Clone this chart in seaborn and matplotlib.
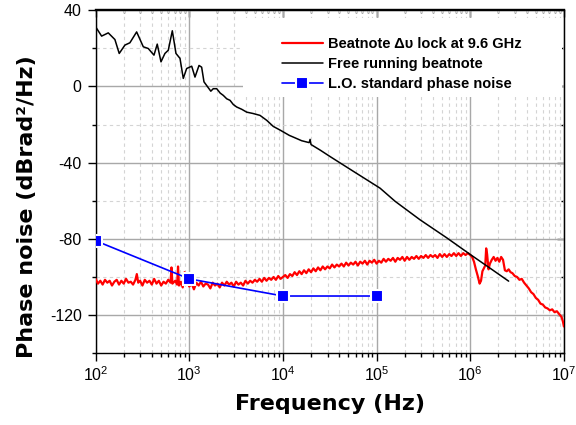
import numpy as np
import pandas as pd
import matplotlib
matplotlib.use("Agg")
import matplotlib.pyplot as plt
import matplotlib.ticker as mticker
from matplotlib.patches import Rectangle
import seaborn as sns

# free running beatnote (log10 of frequency, dBrad2/Hz)
free_logf = [2.000, 2.064, 2.135, 2.206, 2.252, 2.313, 2.366, 2.438, 2.509, 2.562,
             2.623, 2.658, 2.698, 2.740, 2.776, 2.819, 2.858, 2.901, 2.936, 2.972,
             3.026, 3.061, 3.104, 3.132, 3.157, 3.203, 3.230, 3.256, 3.293, 3.330,
             3.363, 3.400, 3.435, 3.470, 3.506, 3.560, 3.613, 3.680, 3.755, 3.827,
             3.897, 3.969, 4.068, 4.111, 4.200, 4.280, 4.290, 4.300, 4.400, 4.503,
             4.750, 5.037, 5.198, 5.464, 5.750, 6.000, 6.200, 6.410]
free_db = [31.3, 26.4, 28.1, 24.6, 17.3, 21.7, 22.9, 28.6, 20.8, 19.9,
           16.4, 22.2, 12.9, 17.3, 19.0, 29.2, 17.3, 14.7, 4.2, 9.4,
           10.6, 4.9, 11.0, 10.1, 2.4, -0.7, -2.5, -1.2, -1.2, -3.5,
           -4.7, -6.5, -7.3, -9.5, -10.8, -12.0, -13.5, -14.2, -15.2, -17.8,
           -21.0, -22.9, -25.7, -26.6, -28.5, -29.5, -27.8, -30.5, -33.5, -36.8,
           -44.5, -53.4, -60.3, -70.0, -79.5, -88.2, -95.0, -102.2]

# beatnote locked at 9.6 GHz
lock_logf = [2.000, 2.025, 2.050, 2.075, 2.100, 2.125, 2.150, 2.175, 2.200, 2.225,
             2.250, 2.275, 2.300, 2.325, 2.350, 2.375, 2.400, 2.425, 2.440, 2.455,
             2.475, 2.500, 2.525, 2.550, 2.575, 2.600, 2.625, 2.650, 2.675, 2.700,
             2.725, 2.750, 2.775, 2.800, 2.810, 2.820, 2.850, 2.870, 2.880, 2.890,
             2.910, 2.930, 2.950, 2.960, 2.980, 3.000, 3.025, 3.050, 3.075, 3.100,
             3.125, 3.150, 3.175, 3.200, 3.225, 3.250, 3.275, 3.300, 3.325, 3.350,
             3.375, 3.400, 3.425, 3.450, 3.475, 3.500, 3.525, 3.550, 3.575, 3.600,
             3.625, 3.650, 3.675, 3.700, 3.725, 3.750, 3.775, 3.800, 3.825, 3.850,
             3.875, 3.900, 3.925, 3.950, 3.975, 4.000, 4.025, 4.050, 4.075, 4.100,
             4.125, 4.150, 4.175, 4.200, 4.225, 4.250, 4.275, 4.300, 4.325, 4.350,
             4.375, 4.400, 4.425, 4.450, 4.475, 4.500, 4.525, 4.550, 4.575, 4.600,
             4.625, 4.650, 4.675, 4.700, 4.725, 4.750, 4.775, 4.800, 4.825, 4.850,
             4.875, 4.900, 4.925, 4.950, 4.975, 5.000, 5.025, 5.050, 5.075, 5.100,
             5.125, 5.150, 5.175, 5.200, 5.225, 5.250, 5.275, 5.300, 5.325, 5.350,
             5.375, 5.400, 5.425, 5.450, 5.475, 5.500, 5.525, 5.550, 5.575, 5.600,
             5.625, 5.650, 5.675, 5.700, 5.725, 5.750, 5.775, 5.800, 5.825, 5.850,
             5.875, 5.900, 5.925, 5.950, 5.975, 6.000, 6.020, 6.040, 6.060, 6.080,
             6.100, 6.115, 6.130, 6.145, 6.160, 6.170, 6.180, 6.195, 6.210, 6.230,
             6.250, 6.270, 6.290, 6.310, 6.330, 6.350, 6.370, 6.390, 6.410, 6.430,
             6.450, 6.475, 6.500, 6.525, 6.550, 6.575, 6.600, 6.625, 6.650, 6.675,
             6.700, 6.725, 6.750, 6.775, 6.800, 6.825, 6.850, 6.875, 6.900, 6.925,
             6.950, 6.975, 6.990, 7.000]
lock_db = [-101.0, -103.5, -102.0, -104.0, -101.5, -103.0, -102.0, -104.5, -102.5, -101.5,
           -104.0, -102.0, -103.5, -101.0, -103.0, -102.5, -104.0, -101.5, -98.5, -103.0,
           -102.0, -104.5, -101.5, -103.0, -102.0, -104.0, -101.0, -103.5, -102.0, -104.5,
           -102.5, -103.5, -101.5, -103.0, -95.0, -103.5, -102.0, -104.0, -94.5, -104.5,
           -102.5, -105.5, -97.5, -104.0, -103.0, -105.0, -103.5, -106.5, -103.0, -104.5,
           -102.5, -105.0, -103.5, -104.0, -106.0, -103.0, -104.5, -103.5, -105.5, -103.0,
           -104.5, -102.5, -104.0, -103.0, -105.0, -102.5, -104.0, -103.0, -104.5, -102.0,
           -103.5, -102.0, -103.0, -101.5, -102.5, -101.0, -102.5, -100.5, -102.0, -100.5,
           -101.5, -100.0, -101.5, -99.5, -101.0, -100.0, -99.0, -100.5, -98.5, -99.5,
           -97.5, -99.0, -97.0, -98.5, -96.5, -98.0, -96.0, -97.5, -95.5, -97.0,
           -95.0, -96.5, -94.5, -96.0, -94.5, -95.5, -93.5, -95.0, -93.5, -94.5,
           -93.0, -94.5, -92.5, -94.0, -92.5, -93.5, -92.0, -94.0, -92.0, -93.0,
           -91.5, -93.5, -91.5, -92.5, -91.0, -93.0, -91.5, -92.5, -90.5, -92.0,
           -90.5, -91.5, -90.0, -92.0, -90.0, -91.0, -89.5, -91.5, -89.5, -91.0,
           -89.5, -90.5, -89.0, -90.5, -89.0, -90.0, -88.5, -90.0, -88.5, -89.5,
           -88.5, -90.0, -88.0, -89.5, -88.0, -89.5, -88.0, -89.0, -87.5, -89.0,
           -87.5, -89.0, -87.5, -88.5, -87.5, -88.5, -89.5, -92.0, -96.0, -99.5,
           -103.5, -102.0, -97.0, -95.5, -94.0, -85.0, -88.0, -96.0, -93.0, -91.0,
           -89.5, -91.5, -90.0, -92.0, -89.5, -91.0, -96.5, -97.0, -96.0, -97.5,
           -98.0, -99.5, -100.0, -101.5, -101.0, -103.0, -104.5, -106.0, -108.0, -109.0,
           -111.0, -112.0, -114.0, -114.5, -116.0, -116.5, -117.5, -117.0, -118.5, -118.0,
           -119.5, -121.0, -123.5, -126.0]

# L.O. standard phase noise
lo_freq = [1e2, 1e3, 1e4, 1e5]
lo_db = [-81, -101, -110, -110]

free = pd.DataFrame({"f": 10 ** np.array(free_logf), "db": free_db})
lock = pd.DataFrame({"f": 10 ** np.array(lock_logf), "db": lock_db})
lo = pd.DataFrame({"f": lo_freq, "db": lo_db})

sns.set_style("white")
plt.rcParams["font.family"] = ["Liberation Sans", "DejaVu Sans"]
plt.rcParams["mathtext.fontset"] = "custom"
plt.rcParams["mathtext.rm"] = "Liberation Sans"
plt.rcParams["axes.unicode_minus"] = False
plt.rcParams["text.color"] = "black"
plt.rcParams["axes.labelcolor"] = "black"
plt.rcParams["xtick.color"] = "black"
plt.rcParams["ytick.color"] = "black"

fig = plt.figure(figsize=(5.76, 4.25), dpi=100)
ax = fig.add_axes([0.166, 0.169, 0.813, 0.807])

sns.lineplot(data=lock, x="f", y="db", ax=ax, color="red", lw=1.6,
             estimator=None, sort=False, label="Beatnote \u0394\u03c5 lock at 9.6 GHz", zorder=3)
sns.lineplot(data=free, x="f", y="db", ax=ax, color="black", lw=1.1,
             estimator=None, sort=False, label="Free running beatnote", zorder=4)
sns.lineplot(data=lo, x="f", y="db", ax=ax, color="blue", lw=1.2, marker="s",
             markersize=8, markeredgecolor="white", markeredgewidth=1.5,
             estimator=None, sort=False, label="L.O. standard phase noise", zorder=5)

ax.set_xscale("log")
ax.set_xlim(1e2, 1e7)
ax.set_ylim(-140, 40)
ax.yaxis.set_major_locator(mticker.MultipleLocator(40))
ax.yaxis.set_minor_locator(mticker.MultipleLocator(20))
ax.xaxis.set_major_locator(mticker.LogLocator(base=10, numticks=10))
ax.xaxis.set_minor_locator(mticker.LogLocator(base=10, subs=np.arange(2, 10), numticks=20))
ax.xaxis.set_minor_formatter(mticker.NullFormatter())

ax.grid(which="major", color="#a8a8a8", lw=1.0, ls="-")
ax.grid(which="minor", color="#d4d4d4", lw=0.8, ls=(0, (3, 3)))
ax.set_axisbelow(True)

for s in ax.spines.values():
    s.set_color("black")
    s.set_linewidth(1.0)
ax.spines["top"].set_linewidth(1.6)

# bottom/left ticks outward
ax.tick_params(which="both", bottom=True, left=True, top=False, right=False, direction="out")
ax.tick_params(axis="both", which="major", labelsize=11.5, length=6, width=1)
ax.tick_params(axis="both", which="minor", length=3, width=1)
ax.tick_params(axis="y", which="major", pad=4)
ax.tick_params(axis="x", which="major", pad=3)

# top/right ticks inward
top = ax.secondary_xaxis("top")
top.xaxis.set_major_locator(mticker.LogLocator(base=10, numticks=10))
top.xaxis.set_minor_locator(mticker.LogLocator(base=10, subs=np.arange(2, 10), numticks=20))
top.tick_params(which="both", direction="in", labeltop=False, width=1)
top.tick_params(which="major", length=5)
top.tick_params(which="minor", length=2.5)
top.spines["top"].set_linewidth(1.6)
right = ax.secondary_yaxis("right")
right.yaxis.set_major_locator(mticker.MultipleLocator(40))
right.yaxis.set_minor_locator(mticker.MultipleLocator(20))
right.tick_params(which="both", direction="in", labelright=False, width=1)
right.tick_params(which="major", length=5)
right.tick_params(which="minor", length=2.5)

ax.set_xlabel("Frequency (Hz)", fontsize=16, fontweight="bold", family="DejaVu Sans")
ax.set_ylabel("Phase noise (dBrad\u00b2/Hz)", fontsize=16, fontweight="bold", family="DejaVu Sans")
ax.xaxis.set_label_coords(0.5, -0.118)
ax.yaxis.set_label_coords(-0.125, 0.426)

# white box behind the legend, hides the grid there
ax.add_patch(Rectangle((0.315, 0.748), 0.68, 0.228, transform=ax.transAxes,
                       facecolor="white", edgecolor="none", zorder=1))
ax.legend(loc="upper left", bbox_to_anchor=(0.385, 0.94), frameon=False,
          prop={"weight": "bold", "size": 10.5}, handlelength=2.8,
          handletextpad=0.35, labelspacing=0.42, borderaxespad=0)

fig.savefig("out.png", dpi=100)
